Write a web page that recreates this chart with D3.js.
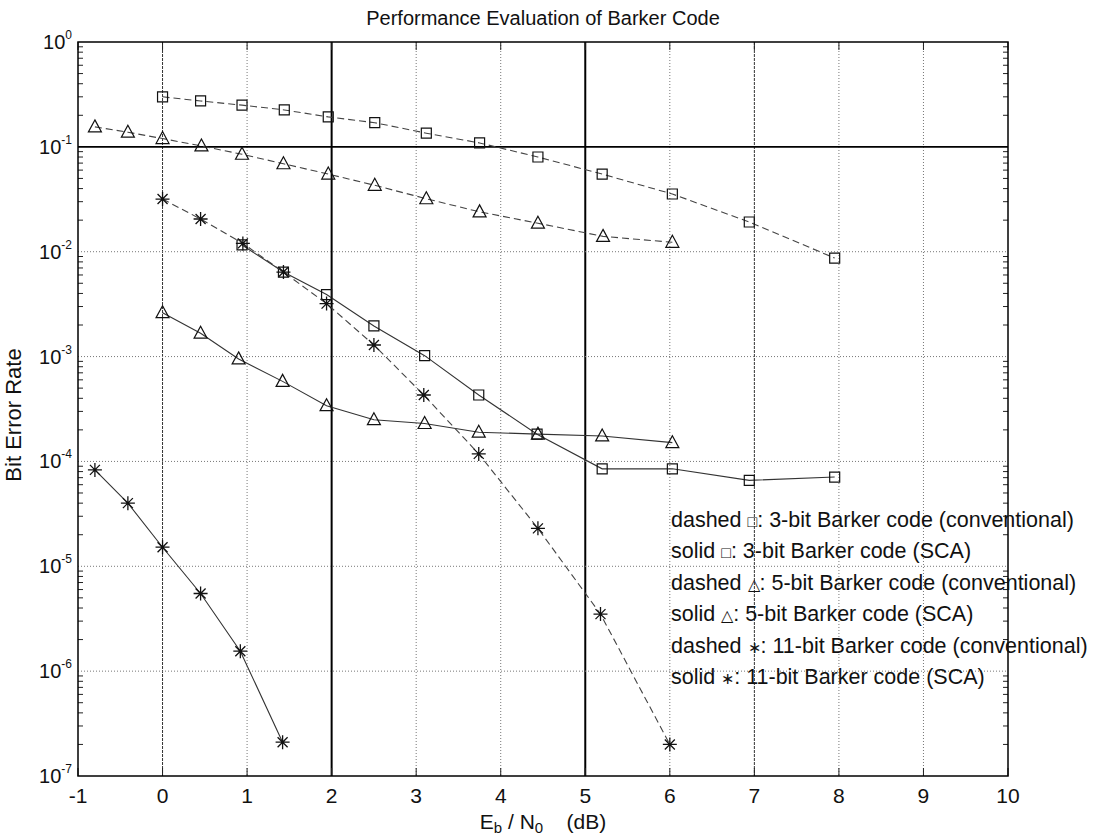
<!DOCTYPE html>
<html>
<head>
<meta charset="utf-8">
<title>Performance Evaluation of Barker Code</title>
<script src="https://cdn.jsdelivr.net/npm/d3@7"></script>
<style>
  body { margin: 0; background: #fff; }
  text { font-family: "Liberation Sans", Arial, sans-serif; fill: #111; }
</style>
</head>
<body>
<svg id="chart" width="1097" height="837"></svg>
<script>
// x values (Eb/N0, dB) and BER values
var xSqDashed = [0, 0.45, 0.94, 1.44, 1.96, 2.51, 3.12, 3.75, 4.44, 5.2, 6.03, 6.94, 7.95];
var berSqDashed = [0.30, 0.274, 0.25, 0.225, 0.193, 0.17, 0.135, 0.109, 0.080, 0.055, 0.0355, 0.0192, 0.0087];

var xSqSolid = [0.94, 1.43, 1.94, 2.5, 3.1, 3.74, 4.43, 5.2, 6.03, 6.94, 7.95];
var berSqSolid = [0.0116, 0.0064, 0.0039, 0.00196, 0.00102, 0.00043, 0.000182, 8.5e-5, 8.5e-5, 6.6e-5, 7.1e-5];

var xTriDashed = [-0.8, -0.41, 0, 0.46, 0.94, 1.43, 1.96, 2.51, 3.12, 3.75, 4.44, 5.21, 6.03];
var berTriDashed = [0.155, 0.138, 0.12, 0.102, 0.085, 0.069, 0.055, 0.043, 0.032, 0.024, 0.0187, 0.014, 0.0123];

var xTriSolid = [0, 0.45, 0.9, 1.42, 1.94, 2.5, 3.1, 3.74, 4.44, 5.2, 6.03];
var berTriSolid = [0.00262, 0.00167, 0.00095, 0.00058, 0.00034, 0.00025, 0.00023, 0.00019, 0.000182, 0.000175, 0.000151];

var xStarDashed = [0, 0.45, 0.95, 1.43, 1.94, 2.5, 3.09, 3.74, 4.44, 5.18, 6.0];
var berStarDashed = [0.0318, 0.0205, 0.012, 0.0064, 0.0032, 0.00129, 0.00043, 0.000118, 2.3e-5, 3.5e-6, 2.0e-7];

var xStarSolid = [-0.8, -0.41, 0, 0.45, 0.92, 1.42];
var berStarSolid = [8.3e-5, 4.0e-5, 1.52e-5, 5.5e-6, 1.55e-6, 2.1e-7];

var xTicks = [-1, 0, 1, 2, 3, 4, 5, 6, 7, 8, 9, 10];
var yDecades = [0, -1, -2, -3, -4, -5, -6, -7];

var legendLines = [
  ["dashed ", "\u25A1", ": 3-bit Barker code (conventional)"],
  ["solid ", "\u25A1", ": 3-bit Barker code (SCA)"],
  ["dashed ", "\u25B3", ": 5-bit Barker code (conventional)"],
  ["solid ", "\u25B3", ": 5-bit Barker code (SCA)"],
  ["dashed ", "\u2217", ": 11-bit Barker code (conventional)"],
  ["solid ", "\u2217", ": 11-bit Barker code (SCA)"]
];

var svg = d3.select("#chart");
var pLeft = 78, pRight = 1008, pTop = 42, pBottom = 776;

var x = d3.scaleLinear().domain([-1, 10]).range([pLeft, pRight]);
var y = d3.scaleLog().domain([1e-7, 1]).range([pBottom, pTop]);

// grid
var grid = svg.append("g");
grid.selectAll(".vg").data(xTicks.slice(1, -1)).enter().append("line")
  .attr("x1", function(d) { return x(d); })
  .attr("x2", function(d) { return x(d); })
  .attr("y1", pTop).attr("y2", pBottom)
  .attr("stroke", function(d) { return (d == 2 || d == 5) ? "#000" : (d == 0 || d == 7 ? "#333" : "#777"); })
  .attr("stroke-width", function(d) { return (d == 2 || d == 5) ? 2 : 1; })
  .attr("stroke-dasharray", function(d) { return (d == 2 || d == 5) ? null : (d == 0 || d == 7 ? "3,1" : "1,2"); });

grid.selectAll(".hg").data(yDecades.slice(1, -1)).enter().append("line")
  .attr("x1", pLeft).attr("x2", pRight)
  .attr("y1", function(d) { return y(Math.pow(10, d)); })
  .attr("y2", function(d) { return y(Math.pow(10, d)); })
  .attr("stroke", function(d) { return d == -1 ? "#000" : "#777"; })
  .attr("stroke-width", function(d) { return d == -1 ? 1.8 : 1; })
  .attr("stroke-dasharray", function(d) { return d == -1 ? null : "1,2"; });

// minor ticks on the log axis (left and right)
var minor = [];
yDecades.slice(1).forEach(function(e) {
  for (var k = 2; k <= 9; k++) minor.push(k * Math.pow(10, e));
});
var ticks = svg.append("g").attr("stroke", "#222").attr("stroke-width", 1);
ticks.selectAll(".ml").data(minor).enter().append("line")
  .attr("x1", pLeft).attr("x2", pLeft + 5)
  .attr("y1", function(d) { return y(d); }).attr("y2", function(d) { return y(d); });
ticks.selectAll(".mr").data(minor).enter().append("line")
  .attr("x1", pRight - 5).attr("x2", pRight)
  .attr("y1", function(d) { return y(d); }).attr("y2", function(d) { return y(d); });
ticks.selectAll(".xb").data(xTicks).enter().append("line")
  .attr("x1", function(d) { return x(d); }).attr("x2", function(d) { return x(d); })
  .attr("y1", pBottom).attr("y2", pBottom - 8);
ticks.selectAll(".xt").data(xTicks).enter().append("line")
  .attr("x1", function(d) { return x(d); }).attr("x2", function(d) { return x(d); })
  .attr("y1", pTop).attr("y2", pTop + 8);

// axes box
svg.append("rect")
  .attr("x", pLeft).attr("y", pTop)
  .attr("width", pRight - pLeft).attr("height", pBottom - pTop)
  .attr("fill", "none").attr("stroke", "#000").attr("stroke-width", 1.5);

// x tick labels
svg.append("g").selectAll("text").data(xTicks).enter().append("text")
  .attr("x", function(d) { return x(d); })
  .attr("y", 803)
  .attr("text-anchor", "middle")
  .style("font-size", "21px")
  .text(function(d) { return d; });

// y tick labels: 10^n
var yl = svg.append("g").selectAll("text").data(yDecades).enter().append("text")
  .attr("x", 72)
  .attr("y", function(d) { return y(Math.pow(10, d)) + 7; })
  .attr("text-anchor", "end")
  .style("font-size", "20px");
yl.append("tspan").text("10");
yl.append("tspan")
  .attr("dy", -10)
  .style("font-size", "12px")
  .text(function(d) { return d; });

// series
var series = [
  { xs: xSqDashed, ys: berSqDashed, dash: true, mark: "square" },
  { xs: xSqSolid, ys: berSqSolid, dash: false, mark: "square" },
  { xs: xTriDashed, ys: berTriDashed, dash: true, mark: "triangle" },
  { xs: xTriSolid, ys: berTriSolid, dash: false, mark: "triangle" },
  { xs: xStarDashed, ys: berStarDashed, dash: true, mark: "star" },
  { xs: xStarSolid, ys: berStarSolid, dash: false, mark: "star" }
];

var line = d3.line()
  .x(function(d) { return x(d[0]); })
  .y(function(d) { return y(d[1]); });

function markerPath(type) {
  if (type == "square") return "M-5,-5H5V5H-5Z";
  if (type == "triangle") return "M0,-7L6.5,5H-6.5Z";
  return "M-7,0H7M0,-7V7M-5,-5L5,5M-5,5L5,-5";
}

series.forEach(function(s) {
  var pts = s.xs.map(function(v, i) { return [v, s.ys[i]]; });
  svg.append("path")
    .datum(pts)
    .attr("d", line)
    .attr("fill", "none")
    .attr("stroke", s.dash ? "#444" : "#333")
    .attr("stroke-width", 1.1)
    .attr("stroke-dasharray", s.dash ? "7,4" : null);
  svg.append("g").selectAll("path").data(pts).enter().append("path")
    .attr("transform", function(d) { return "translate(" + x(d[0]) + "," + y(d[1]) + ")"; })
    .attr("d", markerPath(s.mark))
    .attr("fill", "none")
    .attr("stroke", "#111")
    .attr("stroke-width", s.mark == "star" ? 1.3 : 1.2);
});

// legend text
var lg = svg.append("g").selectAll("text").data(legendLines).enter().append("text")
  .attr("x", 671)
  .attr("y", function(d, i) { return 527 + i * 31.4; })
  .style("font-size", "21.5px");
lg.append("tspan").text(function(d) { return d[0]; });
lg.append("tspan").style("font-size", "16px").text(function(d) { return d[1]; });
lg.append("tspan").text(function(d) { return d[2]; });

// title and axis labels
svg.append("text")
  .attr("x", 543).attr("y", 25)
  .attr("text-anchor", "middle")
  .style("font-size", "20px")
  .text("Performance Evaluation of Barker Code");

svg.append("text")
  .attr("transform", "translate(21," + 415 + ") rotate(-90)")
  .attr("text-anchor", "middle")
  .style("font-size", "22px")
  .text("Bit Error Rate");

var xl = svg.append("text")
  .attr("x", 543).attr("y", 829)
  .attr("text-anchor", "middle")
  .style("font-size", "21px");
xl.append("tspan").text("E");
xl.append("tspan").attr("dy", 4).style("font-size", "15px").text("b");
xl.append("tspan").attr("dy", -4).text(" / N");
xl.append("tspan").attr("dy", 4).style("font-size", "15px").text("0");
xl.append("tspan").attr("dy", -4).attr("xml:space", "preserve").text("    (dB)");
</script>
</body>
</html>
